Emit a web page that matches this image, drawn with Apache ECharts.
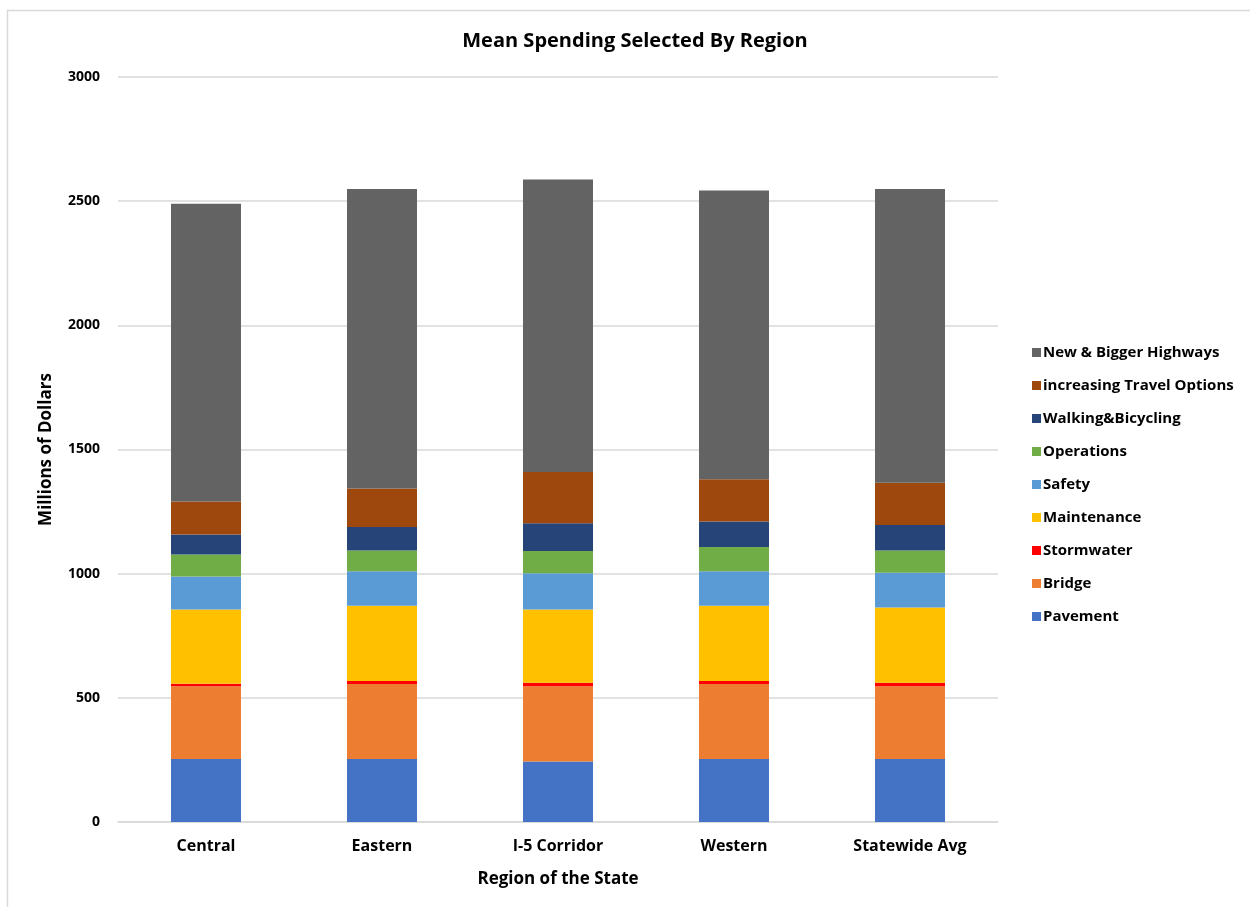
<!DOCTYPE html>
<html>
<head>
<meta charset="utf-8">
<script src="https://cdn.jsdelivr.net/npm/echarts@6/dist/echarts.min.js"></script>
<style>
  html, body { margin: 0; padding: 0; background: #fff; }
  #chart { width: 1250px; height: 907px; }
</style>
</head>
<body>
<div id="chart"></div>
<script>
// Regions along the x axis
const regions = ['Central', 'Eastern', 'I-5 Corridor', 'Western', 'Statewide Avg'];

// Mean spending per category (millions of dollars), stacked bottom to top
const pavement    = [254, 254, 244, 254, 254];
const bridge      = [293, 302, 303, 302, 293];
const stormwater  = [10, 12, 14, 12, 14];
const maintenance = [299, 303, 295, 303, 303];
const safety      = [133, 139, 146, 139, 140];
const operations  = [88, 83, 89, 97, 89];
const walkingBike = [81, 95, 112, 103, 103];
const travelOpts  = [133, 155, 206, 170, 170];
const highways    = [1199, 1206, 1178, 1163, 1183];

const yTicks = { min: 0, max: 3000, interval: 500 };

const seriesDefs = [
  { name: 'Pavement', data: pavement, color: '#4472C4' },
  { name: 'Bridge', data: bridge, color: '#ED7D31' },
  { name: 'Stormwater', data: stormwater, color: '#FF0000' },
  { name: 'Maintenance', data: maintenance, color: '#FFC000' },
  { name: 'Safety', data: safety, color: '#5B9BD5' },
  { name: 'Operations', data: operations, color: '#70AD47' },
  { name: 'Walking&Bicycling', data: walkingBike, color: '#264478' },
  { name: 'increasing Travel Options', data: travelOpts, color: '#9E480E' },
  { name: 'New & Bigger Highways', data: highways, color: '#636363' }
];

const FONT = '"Open Sans", Lato, sans-serif';

const chart = echarts.init(document.getElementById('chart'), null, { renderer: 'canvas' });

chart.setOption({
  backgroundColor: '#ffffff',
  animation: false,
  textStyle: { fontFamily: FONT },
  graphic: [{
    type: 'rect',
    shape: { x: 7.5, y: 10.5, width: 1300, height: 1000 },
    style: { fill: 'none', stroke: '#d9d9d9', lineWidth: 1.5 },
    silent: true
  }],
  title: {
    text: 'Mean Spending Selected By Region',
    left: 630,
    textAlign: 'center',
    top: 26,
    textStyle: { fontFamily: FONT, fontSize: 20, fontWeight: 'bold', color: '#000' }
  },
  legend: {
    orient: 'vertical',
    left: 1027,
    top: 340,
    itemWidth: 9,
    itemHeight: 9,
    itemGap: 18,
    icon: 'rect',
    data: seriesDefs.map(s => s.name).reverse(),
    textStyle: { fontFamily: FONT, fontSize: 15, fontWeight: 'bold', color: '#000', padding: [0, 0, 0, -3] }
  },
  grid: { left: 118, right: 252, top: 77, bottom: 85, containLabel: false },
  xAxis: {
    type: 'category',
    data: regions,
    name: 'Region of the State',
    nameLocation: 'middle',
    nameGap: 49,
    nameTextStyle: { fontFamily: FONT, fontSize: 17, fontWeight: 'bold', color: '#000' },
    axisLine: { show: true, lineStyle: { color: '#d9d9d9', width: 1.5 } },
    axisTick: { show: false },
    axisLabel: { fontFamily: FONT, fontSize: 16, fontWeight: 'bold', color: '#000', margin: 16 }
  },
  yAxis: {
    type: 'value',
    min: yTicks.min,
    max: yTicks.max,
    interval: yTicks.interval,
    name: 'Millions of Dollars',
    nameLocation: 'middle',
    nameGap: 63,
    nameRotate: 90,
    nameTextStyle: { fontFamily: FONT, fontSize: 17, fontWeight: 'bold', color: '#000' },
    axisLine: { show: false },
    axisTick: { show: false },
    splitLine: { lineStyle: { color: '#d9d9d9', width: 1.5 } },
    axisLabel: {
      fontFamily: FONT, fontSize: 14, fontWeight: 'bold', color: '#000', margin: 18,
      formatter: v => String(v)
    }
  },
  series: seriesDefs.map(s => ({
    name: s.name,
    type: 'bar',
    stack: 'total',
    barWidth: 70,
    data: s.data,
    itemStyle: { color: s.color },
    emphasis: { disabled: true }
  }))
});
</script>
</body>
</html>
